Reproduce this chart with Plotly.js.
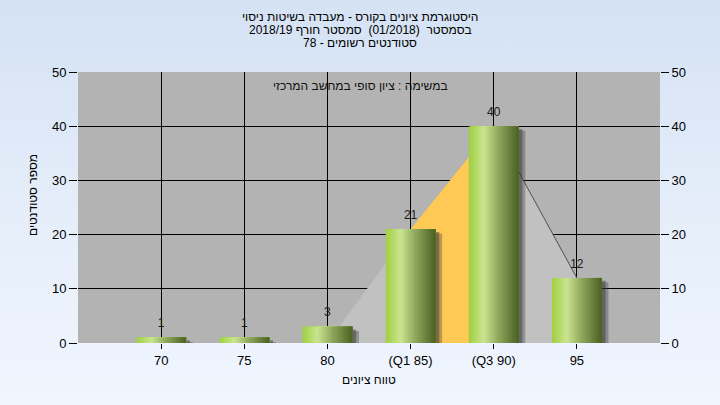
<!DOCTYPE html>
<html>
<head>
<meta charset="utf-8">
<script src="https://cdn.plot.ly/plotly-3.0.1.min.js"></script>
<style>
html,body{margin:0;padding:0;}
body{background:linear-gradient(to bottom,#d4e2f4 0%,#e6eefa 55%,#f0f6fe 100%);width:720px;height:405px;overflow:hidden;}
#chart{width:720px;height:405px;}
</style>
</head>
<body>
<div id="chart"></div>
<script>
// ---- data ----
var categories = ['70', '75', '80', '(Q1 85)', '(Q3 90)', '95'];
var counts = [1, 1, 3, 21, 40, 12];
var areaValues = [0, 0, 0, 21, 40, 12];
var areaStart = 2;          // area starts at category index 2 ("80")
var q1Index = 3, q3Index = 4;
var titleLines = [
  'היסטוגרמת ציונים בקורס - מעבדה בשיטות ניסוי',
  'בסמסטר  (01/2018)  סמסטר חורף 2018/19',
  'סטודנטים רשומים - 78'
];
var subtitle = 'במשימה : ציון סופי במחשב המרכזי';
var xTitle = 'טווח ציונים';
var yTitle = 'מספר סטודנטים';
var yTicks = [0, 10, 20, 30, 40, 50];

// ---- styling helpers ----
var FONT = 'Liberation Sans, Arial, sans-serif';
function hex2rgb(h){return [parseInt(h.substr(1,2),16),parseInt(h.substr(3,2),16),parseInt(h.substr(5,2),16)];}
var stops = [[0,'#9fcf3f'],[0.3,'#c9e590'],[0.6,'#8ea65c'],[1,'#4a6121']];
function colorAt(t){
  for(var i=0;i<stops.length-1;i++){
    if(t<=stops[i+1][0]){
      var a=hex2rgb(stops[i][1]),b=hex2rgb(stops[i+1][1]);
      var f=(t-stops[i][0])/(stops[i+1][0]-stops[i][0]);
      return 'rgb('+[0,1,2].map(function(k){return Math.round(a[k]+(b[k]-a[k])*f);}).join(',')+')';
    }
  }
  return stops[stops.length-1][1];
}

var traces = [];

// area segments
for (var i = areaStart; i < categories.length - 1; i++) {
  var inIQR = (i >= q1Index && i < q3Index);
  var lastSeg = (i === categories.length - 2);
  traces.push({
    type: 'scatter', mode: 'lines',
    x: [categories[i], categories[i+1]],
    y: [areaValues[i], areaValues[i+1]],
    fill: 'tozeroy',
    fillcolor: inIQR ? '#ffc955' : '#c1c1c1',
    line: {width: lastSeg ? 1 : 0, color: lastSeg ? '#505050' : 'rgba(0,0,0,0)'},
    hoverinfo: 'skip', showlegend: false, zorder: 0
  });
}

// shadows
var BW = 0.6;
traces.push({
  type: 'bar', x: categories, y: counts.map(function(v){return Math.max(v-0.8,0.15);}),
  offset: -BW/2 + 0.08, width: BW,
  marker: {color: 'rgba(60,60,60,0.35)', line: {width: 0}},
  hoverinfo: 'skip', showlegend: false, zorder: 1
});
traces.push({
  type: 'bar', x: categories, y: counts.map(function(v){return Math.max(v-0.5,0.15);}),
  offset: -BW/2 + 0.045, width: BW,
  marker: {color: 'rgba(50,50,50,0.45)', line: {width: 0}},
  hoverinfo: 'skip', showlegend: false, zorder: 1
});

// gradient bar: each slice runs from its start to the bar's right edge,
// later slices cover earlier ones -> seamless gradient
var N = 24;
for (var s = 0; s < N; s++) {
  traces.push({
    type: 'bar', x: categories, y: counts,
    offset: -BW/2 + s*BW/N, width: BW - s*BW/N,
    marker: {color: colorAt((s+0.5)/N), line: {width: 0}},
    hoverinfo: s === 0 ? 'x+y' : 'skip', showlegend: false, zorder: 2
  });
}

// value labels
traces.push({
  type: 'scatter', mode: 'markers+text', x: categories, y: counts,
  text: counts.map(String), textposition: 'top center',
  marker: {size: 10, opacity: 0},
  textfont: {family: FONT, size: 12, color: '#1a1a1a'},
  hoverinfo: 'skip', showlegend: false, zorder: 3
});

// right axis carrier
traces.push({
  type: 'scatter', mode: 'markers', x: [categories[0]], y: [0], yaxis: 'y2',
  marker: {opacity: 0}, hoverinfo: 'skip', showlegend: false
});

var L = 78, R = 60, T = 72, B = 62;
var plotH = 405 - T - B;
function py(p){return (405 - B - p) / plotH;}
function px(p){return (p - L) / (720 - L - R);}

var annotations = titleLines.map(function(t, k){
  return {text: t, xref: 'paper', yref: 'paper', x: px(360), y: py(17 + 13*k),
          xanchor: 'center', yanchor: 'middle', showarrow: false,
          font: {family: FONT, size: 12, color: '#000'}};
});
annotations.push({text: subtitle, xref: 'paper', yref: 'paper', x: px(360), y: py(86),
  xanchor: 'center', yanchor: 'middle', showarrow: false,
  font: {family: FONT, size: 12, color: '#111'}});
annotations.push({text: xTitle, xref: 'paper', yref: 'paper', x: 0.5, y: py(380),
  xanchor: 'center', yanchor: 'middle', showarrow: false,
  font: {family: FONT, size: 12, color: '#000'}});
annotations.push({text: yTitle, xref: 'paper', yref: 'paper', x: px(33), y: py(195),
  xanchor: 'center', yanchor: 'middle', showarrow: false, textangle: -90,
  font: {family: FONT, size: 12, color: '#000'}});

var layout = {
  width: 720, height: 405,
  margin: {l: L, r: R, t: T, b: B, pad: 0},
  paper_bgcolor: 'rgba(0,0,0,0)',
  plot_bgcolor: '#b3b3b3',
  barmode: 'overlay',
  showlegend: false,
  xaxis: {
    type: 'category', categoryorder: 'array', categoryarray: categories,
    range: [-1, categories.length],
    showgrid: true, gridcolor: '#000', gridwidth: 1,
    showline: true, linecolor: '#000', linewidth: 1, mirror: true,
    ticks: 'outside', ticklen: 5, tickcolor: '#000',
    tickfont: {family: FONT, size: 13, color: '#000'},
    zeroline: false, fixedrange: true
  },
  yaxis: {
    range: [0, 50], tickvals: yTicks,
    showgrid: true, gridcolor: '#000', gridwidth: 1,
    showline: true, linecolor: '#000', linewidth: 1, mirror: true,
    ticks: 'outside', ticklen: 8, tickcolor: '#000',
    tickfont: {family: FONT, size: 13, color: '#000'},
    zeroline: false, fixedrange: true
  },
  yaxis2: {
    overlaying: 'y', side: 'right', range: [0, 50], tickvals: yTicks,
    showgrid: false, showline: false,
    ticks: 'outside', ticklen: 8, tickcolor: '#000',
    tickfont: {family: FONT, size: 13, color: '#000'},
    zeroline: false, fixedrange: true
  },
  annotations: annotations,
  hovermode: 'closest'
};

Plotly.newPlot('chart', traces, layout, {displayModeBar: false});
</script>
</body>
</html>
